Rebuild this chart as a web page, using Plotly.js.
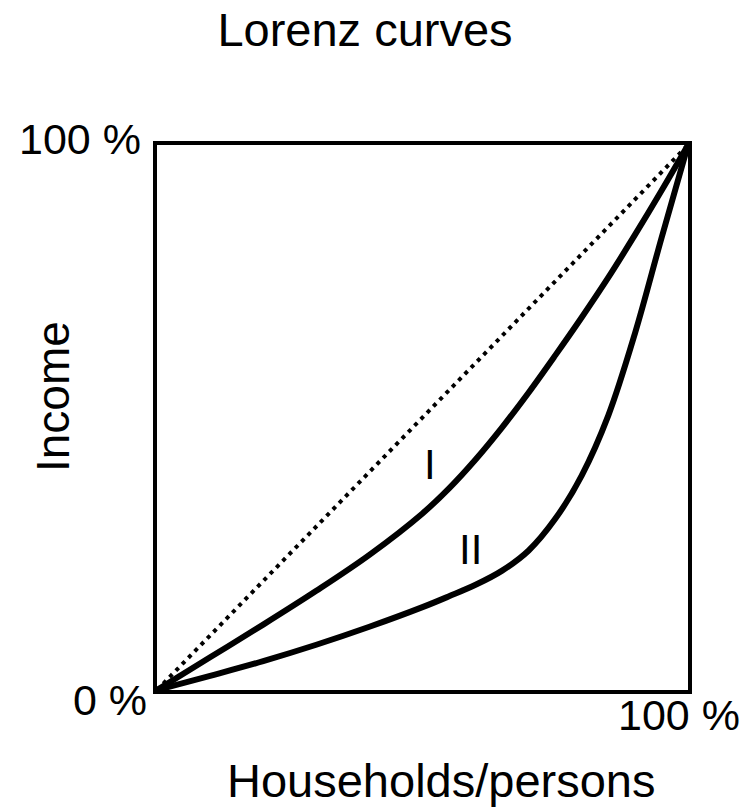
<!DOCTYPE html>
<html>
<head>
<meta charset="utf-8">
<script src="https://cdn.plot.ly/plotly-3.0.1.min.js"></script>
<style>html,body{margin:0;padding:0;background:#fff;}</style>
</head>
<body>
<div id="chart" style="width:751px;height:809px;"></div>
<script>
// Equality line
const equalX = [0, 100];
const equalY = [0, 100];
// Lorenz curve I (cumulative share of households %, cumulative share of income %)
const curve1X = [0, 10, 20, 30, 40, 50, 55, 60, 65, 70, 75, 80, 85, 90, 95, 100];
const curve1Y = [0, 6.0, 12.0, 18.2, 24.8, 32.4, 37.0, 42.3, 48.2, 54.6, 61.4, 68.4, 75.7, 83.5, 91.6, 100];
// Lorenz curve II
const curve2X = [0, 10, 20, 30, 40, 50, 55, 60, 65, 70, 75, 80, 85, 90, 95, 100];
const curve2Y = [0, 2.6, 5.3, 8.3, 11.6, 15.2, 17.2, 19.3, 21.9, 25.6, 31.4, 39.4, 50.4, 65.4, 82.9, 100];
// Curve labels
const labelText = ["I", "II"];
const labelX = [51.4, 59.0];
const labelY = [41.4, 25.8];
// Axis tick labels
const xTickVals = [100];
const xTickText = ["100 %"];
const yTickVals = [100, 0];
const yTickText = ["100 %", "0 %"];
const titleText = "Lorenz curves";
const xTitle = "Households/persons";
const yTitle = "Income";

const FONT = "Liberation Sans, Arial, sans-serif";
const BLACK = "#000";

const traces = [
  {x: equalX, y: equalY, mode: "lines", line: {color: BLACK, width: 4, dash: "4px,5px"}, hoverinfo: "skip"},
  {x: curve1X, y: curve1Y, mode: "lines", line: {color: BLACK, width: 6, shape: "spline", smoothing: 1}},
  {x: curve2X, y: curve2Y, mode: "lines", line: {color: BLACK, width: 6, shape: "spline", smoothing: 1}}
];

const annotations = [];
labelText.forEach((t, i) => annotations.push({
  x: labelX[i], y: labelY[i], xref: "x", yref: "y", text: t, showarrow: false,
  font: {family: FONT, size: 42, color: BLACK}
}));
// y tick labels
annotations.push({x: 0, y: yTickVals[0], xref: "x", yref: "y", text: yTickText[0], showarrow: false,
  xanchor: "right", yanchor: "middle", xshift: -14, yshift: 6, font: {family: FONT, size: 43, color: BLACK}});
annotations.push({x: 0, y: yTickVals[1], xref: "x", yref: "y", text: yTickText[1], showarrow: false,
  xanchor: "right", yanchor: "middle", xshift: -8, yshift: -10, font: {family: FONT, size: 43, color: BLACK}});
// x tick label
annotations.push({x: xTickVals[0], y: 0, xref: "x", yref: "y", text: xTickText[0], showarrow: false,
  xanchor: "center", yanchor: "middle", xshift: -9, yshift: -25, font: {family: FONT, size: 43, color: BLACK}});
// axis titles
annotations.push({x: 441, y: 809 - 780, xref: "paper", yref: "paper", text: xTitle, showarrow: false,
  xanchor: "center", yanchor: "middle", font: {family: FONT, size: 47, color: BLACK}});
annotations.push({x: 53, y: 809 - 397, xref: "paper", yref: "paper", text: yTitle, showarrow: false,
  textangle: -90, xanchor: "center", yanchor: "middle", font: {family: FONT, size: 46, color: BLACK}});

// convert pixel placement of axis titles to paper fractions
const L = 157, R = 63, T = 145, B = 119, W = 751, H = 809;
annotations.forEach(a => {
  if (a.xref === "paper") {
    a.x = (a.x - L) / (W - L - R);
    a.y = (a.y - B) / (H - T - B);
  }
});

const layout = {
  width: W, height: H,
  margin: {l: L, r: R, t: T, b: B},
  paper_bgcolor: "#fff", plot_bgcolor: "#fff",
  showlegend: false,
  font: {family: FONT, color: BLACK},
  title: {text: titleText, font: {family: FONT, size: 47, color: BLACK}, x: 0.486, xanchor: "center", y: 0.963, yanchor: "middle"},
  xaxis: {
    range: [0, 100], showgrid: false, zeroline: false, showline: true, mirror: true,
    linecolor: BLACK, linewidth: 4, ticks: "", showticklabels: false, fixedrange: true
  },
  yaxis: {
    range: [0, 100], showgrid: false, zeroline: false, showline: true, mirror: true,
    linecolor: BLACK, linewidth: 4, ticks: "", showticklabels: false, fixedrange: true
  },
  annotations: annotations
};

Plotly.newPlot("chart", traces, layout, {displayModeBar: false, staticPlot: true});
</script>
</body>
</html>
